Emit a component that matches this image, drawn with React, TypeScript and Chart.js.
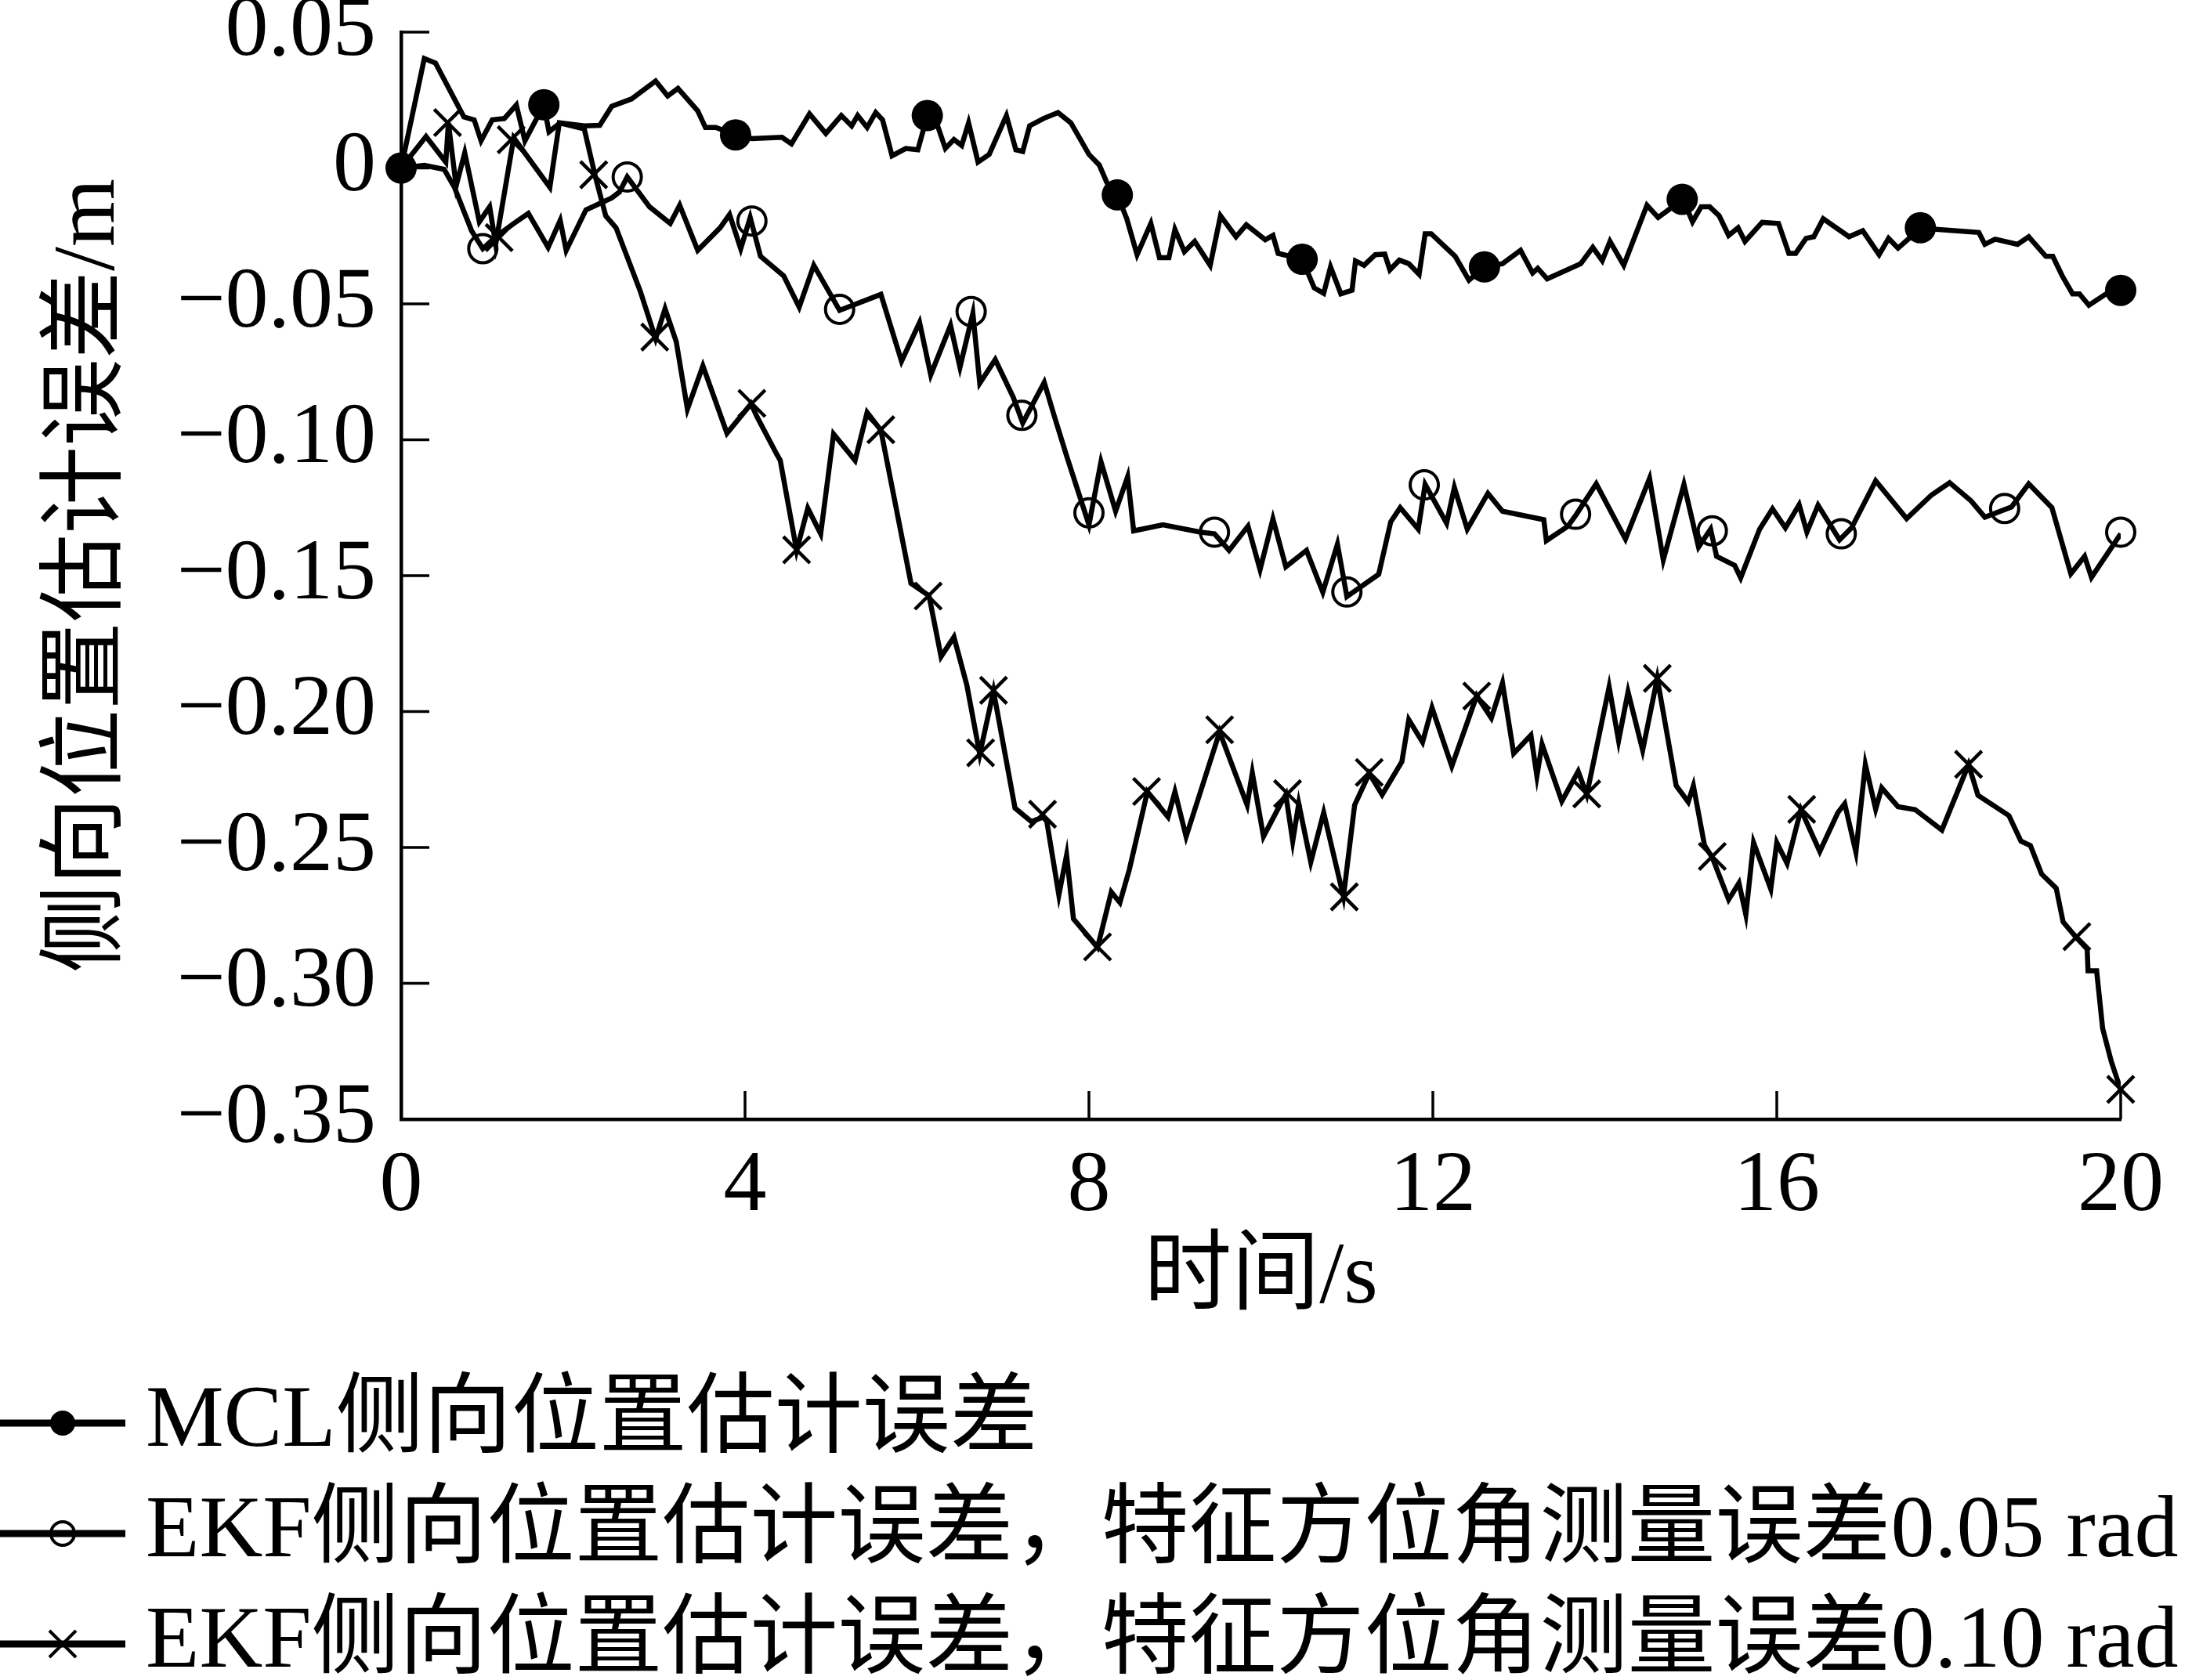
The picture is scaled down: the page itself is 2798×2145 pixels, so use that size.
import React, { useEffect, useRef } from "react";
import { Chart, registerables } from "chart.js";

Chart.register(...registerables);

// ---------- data (time in s, lateral error in m) ----------
const mclLine: [number, number][] = [
  [0, 0], [0.27, 0.0403], [0.4, 0.0386], [0.73, 0.0188], [0.85, 0.0177], [0.93, 0.01],
  [1.06, 0.0177], [1.2, 0.0182], [1.34, 0.0232], [1.44, 0.01], [1.66, 0.0232], [1.72, 0.0133],
  [1.85, 0.0166], [2.13, 0.0155], [2.31, 0.0157], [2.45, 0.0227], [2.68, 0.0254], [2.96, 0.032],
  [3.1, 0.0265], [3.22, 0.0293], [3.45, 0.021], [3.54, 0.0149], [3.66, 0.0149], [3.89, 0.0122],
  [4.08, 0.0108], [4.43, 0.0113], [4.54, 0.0089], [4.75, 0.0199], [4.94, 0.0127], [5.12, 0.0193],
  [5.24, 0.0155], [5.31, 0.0193], [5.42, 0.0149], [5.52, 0.0204], [5.6, 0.0177], [5.71, 0.0045],
  [5.87, 0.0072], [6.01, 0.0067], [6.12, 0.0193], [6.24, 0.0155], [6.33, 0.0072], [6.43, 0.0105],
  [6.52, 0.0083], [6.6, 0.0166], [6.71, 0.0022], [6.84, 0.005], [7.04, 0.0193], [7.15, 0.0067],
  [7.23, 0.0061], [7.31, 0.0155], [7.47, 0.0182], [7.64, 0.0204], [7.79, 0.0166], [8.0, 0.005],
  [8.12, 0.0011], [8.21, -0.0055], [8.33, -0.0099], [8.44, -0.0187], [8.56, -0.0319], [8.72, -0.0204],
  [8.82, -0.033], [8.93, -0.033], [9.0, -0.0226], [9.11, -0.0308], [9.23, -0.027], [9.41, -0.0358],
  [9.53, -0.0176], [9.71, -0.0253], [9.83, -0.0209], [10.05, -0.0264], [10.14, -0.0248], [10.2, -0.0314],
  [10.48, -0.0336], [10.62, -0.0441], [10.73, -0.0461], [10.81, -0.0364], [10.93, -0.0463], [11.06, -0.045],
  [11.1, -0.0342], [11.2, -0.0358], [11.33, -0.0319], [11.44, -0.0317], [11.5, -0.0375], [11.61, -0.0339],
  [11.72, -0.0352], [11.84, -0.0391], [11.91, -0.0242], [11.98, -0.0242], [12.26, -0.0325], [12.42, -0.0413],
  [12.6, -0.0364], [12.81, -0.0352], [13.02, -0.0303], [13.16, -0.0386], [13.22, -0.0369], [13.33, -0.0408],
  [13.72, -0.0352], [13.86, -0.0292], [13.97, -0.0341], [14.06, -0.027], [14.22, -0.0358], [14.49, -0.0137],
  [14.62, -0.0182], [14.91, -0.0115], [15.02, -0.0198], [15.12, -0.0143], [15.22, -0.0143], [15.33, -0.0176],
  [15.44, -0.0248], [15.55, -0.022], [15.63, -0.027], [15.83, -0.02], [16.02, -0.0204], [16.14, -0.0314],
  [16.22, -0.0314], [16.34, -0.0259], [16.43, -0.0253], [16.54, -0.0187], [16.84, -0.0253], [17.0, -0.0231],
  [17.19, -0.0319], [17.3, -0.0259], [17.41, -0.0295], [17.56, -0.0253], [17.67, -0.022], [17.88, -0.0226],
  [18.35, -0.0237], [18.42, -0.0281], [18.54, -0.0262], [18.8, -0.0281], [18.93, -0.0253], [19.13, -0.0325],
  [19.21, -0.0325], [19.32, -0.0397], [19.44, -0.0463], [19.52, -0.0463], [19.63, -0.0505], [19.86, -0.0457],
  [20.0, -0.045],
];
const mclMarks: [number, number][] = [
  [0, 0], [1.66, 0.0233], [3.89, 0.0122], [6.12, 0.0193], [8.33, -0.0099], [10.48, -0.0336],
  [12.6, -0.0364], [14.9, -0.0115], [17.67, -0.022], [20, -0.045],
];

const ekf05Line: [number, number][] = [
  [0, 0], [0.27, 0.001], [0.5, -0.0005], [0.62, -0.0071], [0.82, -0.0231], [0.95, -0.0297],
  [1.1, -0.0253], [1.31, -0.0204], [1.48, -0.0167], [1.71, -0.0292], [1.85, -0.0193], [1.92, -0.0303],
  [2.15, -0.0154], [2.45, -0.011], [2.54, -0.0088], [2.63, -0.0033], [2.89, -0.0143], [3.13, -0.0204],
  [3.24, -0.0137], [3.45, -0.0303], [3.71, -0.022], [3.82, -0.0171], [3.95, -0.0297], [4.06, -0.0182],
  [4.18, -0.0325], [4.45, -0.0397], [4.63, -0.0512], [4.8, -0.0358], [5.1, -0.0524], [5.58, -0.0465],
  [5.82, -0.0711], [6.03, -0.0568], [6.16, -0.0761], [6.39, -0.0579], [6.5, -0.0733], [6.65, -0.0535],
  [6.73, -0.0792], [6.91, -0.0705], [7.12, -0.0844], [7.23, -0.0938], [7.48, -0.0789], [7.6, -0.0916],
  [7.74, -0.1059], [8.0, -0.1313], [8.14, -0.1081], [8.31, -0.1263], [8.45, -0.1136], [8.52, -0.1335],
  [8.86, -0.1313], [9.3, -0.134], [9.46, -0.1346], [9.63, -0.1407], [9.85, -0.1318], [9.99, -0.1478],
  [10.14, -0.1291], [10.29, -0.1467], [10.53, -0.1407], [10.72, -0.1561], [10.89, -0.1384], [11.0, -0.1577],
  [11.37, -0.1495], [11.51, -0.1302], [11.62, -0.125], [11.83, -0.1329], [11.91, -0.1164], [12.16, -0.1307],
  [12.25, -0.1175], [12.4, -0.1329], [12.64, -0.1197], [12.81, -0.1263], [13.29, -0.1294], [13.32, -0.1371],
  [13.57, -0.1318], [13.67, -0.1274], [13.9, -0.1162], [14.24, -0.1365], [14.52, -0.1142], [14.68, -0.1442],
  [14.92, -0.1164], [15.09, -0.1395], [15.23, -0.1329], [15.3, -0.1429], [15.51, -0.1462], [15.58, -0.1508],
  [15.8, -0.1329], [15.95, -0.1254], [16.1, -0.1324], [16.26, -0.1239], [16.35, -0.134], [16.48, -0.1241],
  [16.73, -0.1368], [16.87, -0.1324], [17.15, -0.1151], [17.51, -0.129], [17.8, -0.1203], [18.01, -0.1158],
  [18.26, -0.1225], [18.42, -0.1285], [18.73, -0.1247], [18.93, -0.1162], [19.2, -0.125], [19.42, -0.1493],
  [19.58, -0.1429], [19.66, -0.1506], [20.0, -0.1346],
];
const ekf05Marks: [number, number][] = [
  [0.95, -0.0297], [2.63, -0.0033], [4.08, -0.0195], [5.1, -0.052], [6.63, -0.0528], [7.22, -0.091],
  [8.0, -0.1269], [9.46, -0.134], [11.0, -0.156], [11.9, -0.1166], [13.66, -0.1274], [15.25, -0.1335],
  [16.75, -0.1346], [18.65, -0.1253], [20, -0.134],
];

const ekf10Line: [number, number][] = [
  [0, 0], [0.29, 0.0116], [0.52, 0.0022], [0.55, 0.0166], [0.64, -0.0066], [0.74, 0.0056],
  [0.91, -0.0198], [1.03, -0.0143], [1.1, -0.0281], [1.31, 0.0111], [1.73, -0.0071], [1.84, 0.0166],
  [2.13, 0.0144], [2.26, -0.0033], [2.38, -0.0176], [2.5, -0.022], [2.78, -0.0452], [2.96, -0.0628],
  [3.07, -0.0518], [3.2, -0.0639], [3.33, -0.0887], [3.51, -0.0728], [3.79, -0.0976], [4.07, -0.0868],
  [4.14, -0.0916], [4.37, -0.1054], [4.41, -0.1076], [4.6, -0.1407], [4.73, -0.1252], [4.88, -0.1346],
  [5.03, -0.0979], [5.28, -0.1076], [5.42, -0.0899], [5.58, -0.0965], [5.93, -0.1528], [6.14, -0.1574],
  [6.28, -0.1798], [6.43, -0.1726], [6.58, -0.1903], [6.73, -0.2157], [6.89, -0.1925], [7.14, -0.2355],
  [7.33, -0.2405], [7.47, -0.2388], [7.51, -0.2405], [7.65, -0.2675], [7.74, -0.2528], [7.82, -0.2763],
  [8.1, -0.2868], [8.26, -0.2664], [8.36, -0.2703], [8.47, -0.2581], [8.68, -0.2295], [8.92, -0.2388],
  [9.0, -0.2295], [9.13, -0.246], [9.52, -0.2075], [9.84, -0.2344], [9.9, -0.2226], [10.03, -0.246],
  [10.23, -0.2339], [10.29, -0.2306], [10.37, -0.2477], [10.44, -0.2339], [10.58, -0.2554], [10.73, -0.2372],
  [10.96, -0.2681], [11.09, -0.2344], [11.26, -0.2228], [11.41, -0.2306], [11.64, -0.2184], [11.72, -0.203],
  [11.88, -0.2113], [11.99, -0.1986], [12.22, -0.2201], [12.51, -0.1942], [12.68, -0.2024], [12.81, -0.1895],
  [12.94, -0.2154], [13.14, -0.2087], [13.21, -0.2237], [13.27, -0.212], [13.5, -0.233], [13.69, -0.222],
  [13.79, -0.2306], [14.05, -0.1909], [14.16, -0.2107], [14.27, -0.1928], [14.44, -0.2142], [14.61, -0.1878],
  [14.83, -0.2273], [14.97, -0.2333], [15.03, -0.2273], [15.16, -0.2493], [15.25, -0.2537], [15.44, -0.2692],
  [15.56, -0.2631], [15.64, -0.2747], [15.73, -0.2482], [15.93, -0.2653], [16.0, -0.2482], [16.12, -0.2559],
  [16.28, -0.2361], [16.5, -0.2515], [16.71, -0.2372], [16.79, -0.2339], [16.92, -0.2517], [17.03, -0.2195],
  [17.15, -0.2359], [17.22, -0.2281], [17.41, -0.235], [17.61, -0.2361], [17.92, -0.2436], [18.23, -0.2195],
  [18.34, -0.2308], [18.7, -0.2383], [18.84, -0.2477], [18.95, -0.2493], [19.08, -0.2598], [19.25, -0.265],
  [19.33, -0.2774], [19.48, -0.283], [19.61, -0.2874], [19.62, -0.2954], [19.72, -0.2954], [19.79, -0.3166],
  [19.89, -0.3287], [20.0, -0.3392],
];
const ekf10Marks: [number, number][] = [
  [0.54, 0.0167], [1.14, -0.0256], [1.28, 0.0104], [2.24, -0.0025], [2.95, -0.0622], [4.08, -0.0866],
  [4.6, -0.1405], [5.58, -0.0963], [6.13, -0.1575], [6.74, -0.2152], [6.89, -0.1922], [7.46, -0.2378],
  [8.1, -0.2866], [8.67, -0.2294], [9.52, -0.2067], [10.31, -0.2302], [10.97, -0.2682], [11.26, -0.2224],
  [12.51, -0.1943], [13.79, -0.2303], [14.61, -0.1878], [15.25, -0.2533], [16.29, -0.236], [18.23, -0.2194],
  [19.49, -0.2828], [20, -0.339],
];

const xTickValues = [0, 4, 8, 12, 16, 20];
const yTickValues = [0.05, 0, -0.05, -0.1, -0.15, -0.2, -0.25, -0.3, -0.35];
const xTitle = "时间/s";
const yTitle = "侧向位置估计误差/m";
const legendLabels = [
  "MCL侧向位置估计误差",
  "EKF侧向位置估计误差，特征方位角测量误差0.05 rad",
  "EKF侧向位置估计误差，特征方位角测量误差0.10 rad",
];
const legendMarkers = ["dot", "ring", "cross"];

const FONT = '"Liberation Serif", "Times New Roman", "Noto Sans CJK SC", serif';
const W = 2798;
const H = 2145;

const toXY = (arr: [number, number][]) => arr.map(([x, y]) => ({ x, y }));

function formatY(v: number): string {
  const r = Math.round(v * 100) / 100;
  if (Math.abs(r) < 1e-9) return "0";
  return r < 0 ? "\u2212" + Math.abs(r).toFixed(2) : r.toFixed(2);
}

function drawMarker(ctx: CanvasRenderingContext2D, kind: string, x: number, y: number, r: number) {
  ctx.save();
  ctx.strokeStyle = "#000";
  ctx.fillStyle = "#000";
  if (kind === "dot") {
    ctx.beginPath();
    ctx.arc(x, y, r, 0, Math.PI * 2);
    ctx.fill();
  } else if (kind === "ring") {
    ctx.lineWidth = 4;
    ctx.beginPath();
    ctx.arc(x, y, r, 0, Math.PI * 2);
    ctx.stroke();
  } else {
    ctx.lineWidth = 4;
    const d = r * 0.7071;
    ctx.beginPath();
    ctx.moveTo(x - d, y - d);
    ctx.lineTo(x + d, y + d);
    ctx.moveTo(x + d, y - d);
    ctx.lineTo(x - d, y + d);
    ctx.stroke();
  }
  ctx.restore();
}

const inwardTicks = {
  id: "inwardTicks",
  afterDatasetsDraw(chart: any) {
    const { ctx, chartArea, scales } = chart;
    ctx.save();
    ctx.strokeStyle = "#000";
    ctx.lineWidth = 3.5;
    const len = 36;
    yTickValues.forEach((v) => {
      const y = scales.y.getPixelForValue(v);
      ctx.beginPath();
      ctx.moveTo(chartArea.left, y);
      ctx.lineTo(chartArea.left + len, y);
      ctx.stroke();
    });
    xTickValues.forEach((v) => {
      const x = scales.x.getPixelForValue(v);
      ctx.beginPath();
      ctx.moveTo(x, chartArea.bottom);
      ctx.lineTo(x, chartArea.bottom - len);
      ctx.stroke();
    });
    ctx.restore();
  },
};

const customLegend = {
  id: "customLegend",
  afterDraw(chart: any) {
    const { ctx } = chart;
    const rows = [1817, 1958, 2099];
    ctx.save();
    ctx.font = `112px ${FONT}`;
    ctx.fillStyle = "#000";
    ctx.textAlign = "left";
    ctx.textBaseline = "middle";
    legendLabels.forEach((label, i) => {
      const y = rows[i];
      ctx.strokeStyle = "#000";
      ctx.lineWidth = 9;
      ctx.beginPath();
      ctx.moveTo(0, y);
      ctx.lineTo(160, y);
      ctx.stroke();
      const kind = legendMarkers[i];
      drawMarker(ctx, kind, 80, y, kind === "dot" ? 16 : kind === "ring" ? 15 : 24);
      ctx.fillText(label, 186, y);
    });
    ctx.restore();
  },
};

export default function App() {
  const ref = useRef<HTMLCanvasElement | null>(null);

  useEffect(() => {
    const canvas = ref.current;
    if (!canvas) return;
    const lineDs = (data: [number, number][]) => ({
      data: toXY(data),
      borderColor: "#000",
      borderWidth: 6.5,
      pointRadius: 0,
      tension: 0,
      fill: false,
      showLine: true,
    });
    const chart = new Chart(canvas, {
      type: "line",
      data: {
        datasets: [
          {
            data: toXY(mclMarks),
            showLine: false,
            pointStyle: "circle",
            pointRadius: 20,
            pointBackgroundColor: "#000",
            pointBorderColor: "#000",
            pointBorderWidth: 0,
            clip: false,
          } as any,
          {
            data: toXY(ekf05Marks),
            showLine: false,
            pointStyle: "circle",
            pointRadius: 18,
            pointBackgroundColor: "rgba(0,0,0,0)",
            pointBorderColor: "#000",
            pointBorderWidth: 4,
            clip: false,
          } as any,
          {
            data: toXY(ekf10Marks),
            showLine: false,
            pointStyle: "crossRot",
            pointRadius: 24,
            pointBorderColor: "#000",
            pointBorderWidth: 4.5,
            clip: false,
          } as any,
          lineDs(mclLine) as any,
          lineDs(ekf05Line) as any,
          lineDs(ekf10Line) as any,
        ],
      },
      options: {
        responsive: false,
        animation: false,
        devicePixelRatio: 1,
        events: [],
        layout: { padding: { left: 0, right: 91, top: 41, bottom: 0 } },
        plugins: { legend: { display: false }, tooltip: { enabled: false } },
        scales: {
          x: {
            type: "linear",
            min: 0,
            max: 20,
            grid: { display: false, drawTicks: false },
            border: { display: true, color: "#000", width: 4.5 },
            afterBuildTicks: (scale: any) => {
              scale.ticks = xTickValues.map((v) => ({ value: v }));
            },
            afterFit: (scale: any) => {
              scale.height = 716;
              scale.paddingLeft = 0;
              scale.paddingRight = 0;
            },
            ticks: {
              color: "#000",
              padding: 21,
              maxRotation: 0,
              autoSkip: false,
              font: { family: FONT, size: 110 },
              callback: (v: any) => String(v),
            },
            title: {
              display: true,
              text: xTitle,
              color: "#000",
              font: { family: FONT, size: 112 },
              padding: { top: 0, bottom: 444 },
            },
          },
          y: {
            type: "linear",
            min: -0.35,
            max: 0.05,
            grid: { display: false, drawTicks: false },
            border: { display: true, color: "#000", width: 4.5 },
            afterBuildTicks: (scale: any) => {
              scale.ticks = yTickValues.map((v) => ({ value: v }));
            },
            afterFit: (scale: any) => {
              scale.width = 512;
              scale.paddingTop = 0;
              scale.paddingBottom = 0;
            },
            ticks: {
              color: "#000",
              padding: 32,
              autoSkip: false,
              font: { family: FONT, size: 110 },
              callback: (v: any) => formatY(Number(v)),
            },
            title: {
              display: true,
              text: yTitle,
              color: "#000",
              font: { family: FONT, size: 112 },
              padding: { top: 48, bottom: 0 },
            },
          },
        },
      },
      plugins: [inwardTicks, customLegend],
    });
    return () => chart.destroy();
  }, []);

  return (
    <div style={{ position: "absolute", left: 0, top: 0, width: W, height: H, background: "#fff" }}>
      <canvas ref={ref} width={W} height={H} style={{ display: "block", width: W, height: H }} />
    </div>
  );
}
